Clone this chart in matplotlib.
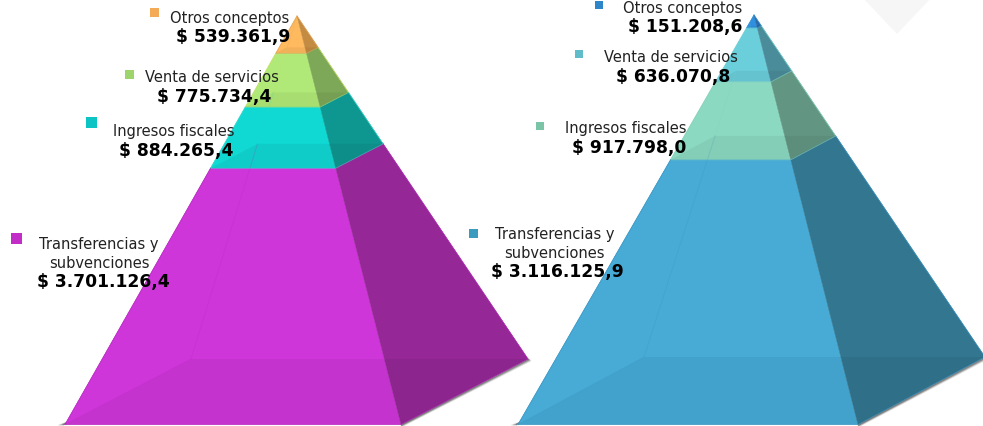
import numpy as np
import matplotlib
matplotlib.use("Agg")
import matplotlib.pyplot as plt
from matplotlib.patches import Polygon, Rectangle

# ---- data (top to bottom of each pyramid) ----
left_categories = ["Otros conceptos", "Venta de servicios", "Ingresos fiscales", "Transferencias y\nsubvenciones"]
left_values = [539361.9, 775734.4, 884265.4, 3701126.4]
right_categories = ["Otros conceptos", "Venta de servicios", "Ingresos fiscales", "Transferencias y\nsubvenciones"]
right_values = [151208.6, 636070.8, 917798.0, 3116125.9]


def money(v):
    s = f"{v:,.1f}".replace(",", "X").replace(".", ",").replace("X", ".")
    return "$ " + s


# ---- styles ----
left_front = ["#FFBA60", "#B0E978", "#10D8D3", "#CF36DA"]
left_side = ["#C48C42", "#7DA858", "#0E9690", "#952796"]
left_marker = ["#F4AB57", "#9DD46B", "#0CC4C4", "#C22DC8"]
left_edge = ["#E0A050", "#C8E060", "#30D8C8", "#B020B8"]
right_front = ["#2F90E0", "#6BCEDB", "#8CD9C1", "#47ABD6"]
right_side = ["#2A6AA8", "#4B8C9A", "#629682", "#337690"]
right_marker = ["#2E86C8", "#5FBCC8", "#7CC4A8", "#3A9BBE"]
right_edge = ["#3090D0", "#70D0D0", "#80D0B8", "#3090C0"]

W, H = 983, 427
fig = plt.figure(figsize=(W / 100, H / 100), dpi=100)
ax = fig.add_axes([0, 0, 1, 1])
ax.set_xlim(0, W)
ax.set_ylim(H, 0)
ax.axis("off")

ax.add_patch(Polygon([(863, -1), (931, -1), (897, 35)], closed=True, fc="#F6F6F6", ec="none", zorder=0))


def pyramid(values, front, side, edge, apex, fl, fr, br, bl):
    apex, fl, fr, br, bl = map(np.array, (apex, fl, fr, br, bl))
    pt = lambda corner, t: apex + (corner - apex) * t
    # soft shadow under the right and front edges
    for off, a in [(3.0, .12), (2.2, .2), (1.4, .32), (.7, .45)]:
        ax.plot([fr[0] + off * .5, br[0] + off * .8], [fr[1] + off * .5, br[1] + off * .6],
                color="#404040", alpha=a, lw=1.2, zorder=1, solid_capstyle="round")
        ax.plot([fl[0] - off * 2, fl[0] + 6], [fl[1] + off * .2, fl[1] - 4 + off * .2],
                color="#404040", alpha=a, lw=1.0, zorder=1)
    cum = np.concatenate([[0], np.cumsum(values)]) / np.sum(values)
    for i in range(len(values)):
        t0, t1 = cum[i], cum[i + 1]
        z = 2 + i * .01
        ax.add_patch(Polygon([pt(fl, t0), pt(fr, t0), pt(fr, t1), pt(fl, t1)], closed=True,
                             fc=front[i], ec=front[i], lw=.3, zorder=z))
        ax.add_patch(Polygon([pt(fr, t0), pt(br, t0), pt(br, t1), pt(fr, t1)], closed=True,
                             fc=side[i], ec=side[i], lw=.3, zorder=z))
        # translucent floor of the layer
        ax.add_patch(Polygon([pt(fl, t1), pt(fr, t1), pt(br, t1), pt(bl, t1)], closed=True,
                             fc="#000000", alpha=.05, ec="none", zorder=z + .1))
        # hidden back edges seen through the body
        ax.plot(*zip(pt(bl, t0), pt(bl, t1)), color=edge[i], alpha=.2, lw=.7, zorder=z + .2)
        ax.plot(*zip(pt(fl, t1), pt(bl, t1)), color=edge[i], alpha=.12, lw=.7, zorder=z + .2)
        # lighter seams and outlines
        ax.plot(*zip(pt(fl, t1), pt(fr, t1), pt(br, t1)), color=edge[i], alpha=.6, lw=.6, zorder=z + .3)
        ax.plot(*zip(pt(fl, t0), pt(fl, t1)), color=edge[i], alpha=.8, lw=.6, zorder=z + .3)
        ax.plot(*zip(pt(br, t0), pt(br, t1)), color=edge[i], alpha=.8, lw=.6, zorder=z + .3)


pyramid(left_values, left_front, left_side, left_edge,
        (297, 17), (65, 425.5), (401, 425.5), (528, 360), (191, 360))
pyramid(right_values, right_front, right_side, right_edge,
        (754, 16), (518, 425.5), (858, 425.5), (985, 358), (644, 358))


def label(cat, val, marker_col, mx, my, ms, tx, ty, vx, vy):
    ax.add_patch(Rectangle((mx, my), ms, ms, fc=marker_col, ec="none", zorder=5))
    lines = cat.split("\n")
    for k, line in enumerate(lines):
        ax.text(tx, ty + 18.5 * k, line, ha="center", va="center", fontsize=TXT, color="#222222", zorder=6)
    ax.text(vx, vy, money(val), ha="center", va="center", fontsize=BLD, fontweight="bold", color="#000000", zorder=6)


TXT = 10.5
BLD = 12.3
left_layout = [(150, 9, 9, 230, 18, 233.5, 37), (125, 71, 9, 212, 78, 214.5, 97),
               (86, 118, 11, 174, 132, 176.5, 151), (11, 234, 11, 99, 245, 103, 282)]
right_layout = [(595, 2, 8, 683, 8, 685.5, 27), (575, 51, 8, 671, 57, 673.5, 77),
                (536, 123, 8, 625.5, 128, 629, 148), (469, 230, 9, 554.5, 235, 557.5, 272)]
for c, v, m, lay in zip(left_categories, left_values, left_marker, left_layout):
    label(c, v, m, *lay)
for c, v, m, lay in zip(right_categories, right_values, right_marker, right_layout):
    label(c, v, m, *lay)

fig.savefig("out.png", dpi=100)
